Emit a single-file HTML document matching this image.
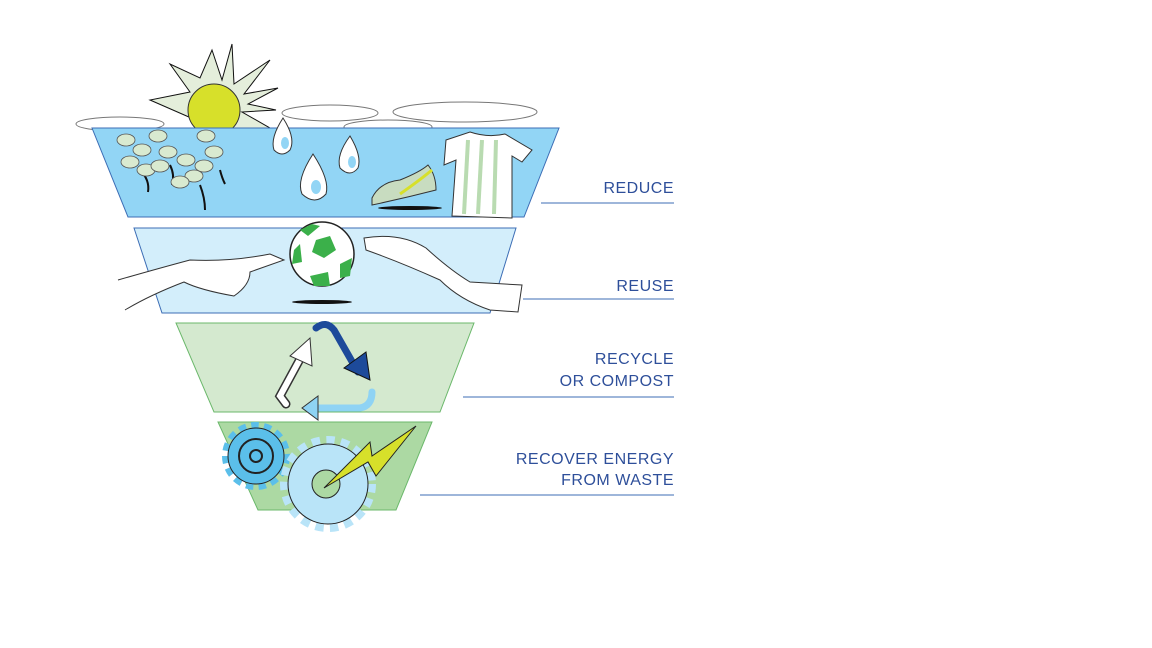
<!DOCTYPE html>
<html><head><style>
html,body{margin:0;padding:0;background:#fff;width:1152px;height:648px;overflow:hidden}
svg{display:block}
text{font-family:"Liberation Sans",sans-serif;font-size:16px;fill:#2e4f9a;letter-spacing:0.5px}
</style></head><body>
<svg width="1152" height="648" viewBox="0 0 1152 648" xmlns="http://www.w3.org/2000/svg">
<!-- sun -->
<polygon points="214,128 150,100 190,92 170,64 200,78 212,50 222,80 232,44 234,84 270,60 244,94 278,88 248,104 276,110 242,112 270,128" fill="#e4eedb" stroke="#111"/>
<circle cx="214" cy="110" r="26" fill="#d7e02a" stroke="#333"/>
<!-- clouds -->
<g fill="#fff" stroke="#777" stroke-width="1">
<ellipse cx="120" cy="124" rx="44" ry="7"/>
<ellipse cx="330" cy="113" rx="48" ry="8"/>
<ellipse cx="465" cy="112" rx="72" ry="10"/>
<ellipse cx="388" cy="127" rx="44" ry="7"/>
</g>
<!-- bands -->
<polygon points="92,128 559,128 524,217 128,217" fill="#92d5f5" stroke="#3c6db5"/>
<polygon points="134,228 516,228 490,313 162,313" fill="#d3eefb" stroke="#3c6db5"/>
<polygon points="176,323 474,323 440,412 214,412" fill="#d4e9cf" stroke="#6bb86b"/>
<polygon points="218,422 432,422 396,510 258,510" fill="#acd9a3" stroke="#6bb86b"/>
<!-- plants -->
<g stroke="#111" stroke-width="2" fill="none">
<path d="M140 170 Q150 180 148 192"/><path d="M170 165 Q175 175 172 185"/><path d="M200 185 Q205 198 205 210"/><path d="M220 170 Q222 178 225 184"/>
</g>
<g fill="#d9ead0" stroke="#555" stroke-width="0.8">
<ellipse cx="126" cy="140" rx="9" ry="6"/><ellipse cx="142" cy="150" rx="9" ry="6"/><ellipse cx="130" cy="162" rx="9" ry="6"/><ellipse cx="146" cy="170" rx="9" ry="6"/>
<ellipse cx="158" cy="136" rx="9" ry="6"/><ellipse cx="168" cy="152" rx="9" ry="6"/><ellipse cx="160" cy="166" rx="9" ry="6"/>
<ellipse cx="186" cy="160" rx="9" ry="6"/><ellipse cx="194" cy="176" rx="9" ry="6"/><ellipse cx="180" cy="182" rx="9" ry="6"/>
<ellipse cx="206" cy="136" rx="9" ry="6"/><ellipse cx="214" cy="152" rx="9" ry="6"/><ellipse cx="204" cy="166" rx="9" ry="6"/>
</g>
<!-- drops -->
<g fill="#fff" stroke="#333">
<path d="M283 118 Q296 138 290 150 Q282 158 274 150 Q270 138 283 118Z"/>
<path d="M350 136 Q362 156 358 168 Q350 178 340 168 Q336 155 350 136Z"/>
<path d="M313 154 Q330 180 326 194 Q315 206 302 194 Q296 180 313 154Z"/>
</g>
<g fill="#92d5f5"><ellipse cx="285" cy="143" rx="4" ry="6"/><ellipse cx="352" cy="162" rx="4" ry="6"/><ellipse cx="316" cy="187" rx="5" ry="7"/></g>
<!-- shoe -->
<path d="M372 198 Q380 182 400 180 Q420 172 428 165 Q436 175 436 190 Q405 198 372 205Z" fill="#c8dcc0" stroke="#333"/>
<path d="M400 194 Q420 180 432 170" stroke="#d7e02a" stroke-width="3" fill="none"/>
<ellipse cx="410" cy="208" rx="32" ry="2" fill="#111"/>
<!-- shirt -->
<path d="M446 140 L470 132 Q488 138 505 134 L532 150 L522 162 L512 156 L512 218 L452 216 L456 160 L444 165Z" fill="#fff" stroke="#333"/>
<g stroke="#b9dbb1" stroke-width="4"><line x1="468" y1="140" x2="464" y2="214"/><line x1="482" y1="140" x2="478" y2="214"/><line x1="496" y1="140" x2="494" y2="214"/></g>
<!-- ball -->
<circle cx="322" cy="254" r="32" fill="#fff" stroke="#222" stroke-width="1.5"/>
<g fill="#3bb04a"><polygon points="316,240 330,236 336,250 324,258 312,252"/><polygon points="294,250 300,244 302,262 292,264"/><polygon points="340,264 352,258 350,276 340,278"/><polygon points="310,276 328,272 330,286 314,286"/><polygon points="300,230 312,224 320,226 308,236"/></g>
<ellipse cx="322" cy="302" rx="30" ry="2" fill="#111"/>
<!-- hands -->
<path d="M118 280 Q160 268 190 260 Q230 262 270 254 L284 260 L250 272 Q250 285 234 296 Q200 290 184 282 Q150 295 125 310" fill="#fff" stroke="#333"/>
<path d="M364 238 Q400 232 426 248 Q450 270 470 282 L522 285 L518 312 L490 310 Q460 300 440 280 Q400 262 366 250Z" fill="#fff" stroke="#333"/>
<!-- recycle arrows -->
<path d="M316 328 Q326 320 334 330 L358 372" stroke="#1d4a9a" stroke-width="7" fill="none" stroke-linecap="round"/>
<polygon points="344,368 370,380 366,352" fill="#1d4a9a" stroke="#111"/>
<path d="M286 404 L280 396 L306 348" stroke="#333" stroke-width="9" fill="none" stroke-linecap="round"/>
<path d="M286 404 L280 396 L306 348" stroke="#fff" stroke-width="6" fill="none" stroke-linecap="round"/>
<polygon points="290,356 310,338 312,366" fill="#fff" stroke="#333"/>
<path d="M372 392 Q372 406 360 408 L318 408" stroke="#8fd3f4" stroke-width="7" fill="none" stroke-linecap="round"/>
<polygon points="318,396 302,408 318,420" fill="#8fd3f4" stroke="#333"/>
<!-- gears -->
<circle cx="256" cy="456" r="29" fill="none" stroke="#5bbfea" stroke-width="10" stroke-dasharray="7 5"/>
<circle cx="256" cy="456" r="28" fill="#5bbfea" stroke="#222"/>
<circle cx="256" cy="456" r="17" fill="none" stroke="#222" stroke-width="2"/>
<circle cx="256" cy="456" r="6" fill="none" stroke="#222" stroke-width="2"/>
<circle cx="328" cy="484" r="42" fill="none" stroke="#b9e4f8" stroke-width="12" stroke-dasharray="8 6"/>
<circle cx="328" cy="484" r="40" fill="#b9e4f8" stroke="#222"/>
<circle cx="326" cy="484" r="14" fill="#acd9a3" stroke="#222"/>
<polygon points="324,488 370,442 372,456 416,426 376,476 368,462" fill="#d7e02a" stroke="#222"/>
<!-- labels -->
<text x="674" y="193" text-anchor="end">REDUCE</text>
<line x1="541" y1="203" x2="674" y2="203" stroke="#3c6db5"/>
<text x="674" y="291" text-anchor="end">REUSE</text>
<line x1="523" y1="299" x2="674" y2="299" stroke="#3c6db5"/>
<text x="674" y="364" text-anchor="end">RECYCLE</text>
<text x="674" y="386" text-anchor="end">OR COMPOST</text>
<line x1="463" y1="397" x2="674" y2="397" stroke="#3c6db5"/>
<text x="674" y="464" text-anchor="end">RECOVER ENERGY</text>
<text x="674" y="485" text-anchor="end">FROM WASTE</text>
<line x1="420" y1="495" x2="674" y2="495" stroke="#3c6db5"/>
</svg>
</body></html>
